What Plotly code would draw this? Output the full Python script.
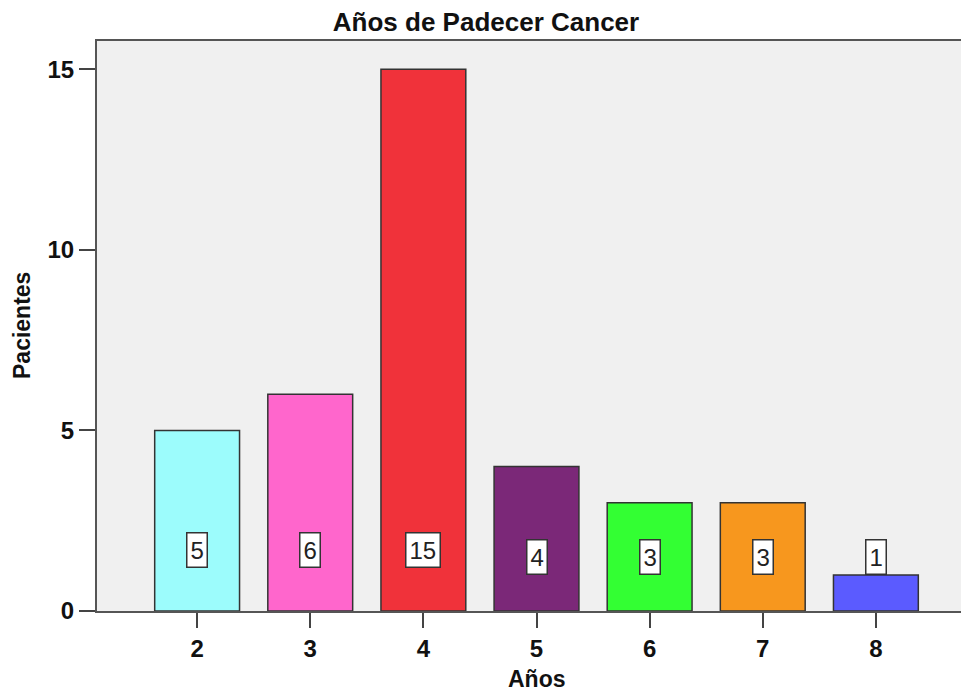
import plotly.graph_objects as go

# ---- data ----
categories = [2, 3, 4, 5, 6, 7, 8]
pacientes = [5, 6, 15, 4, 3, 3, 1]
bar_colors = ["#9CFCFC", "#FF66CC", "#F0323A", "#7B2878", "#33FF33", "#F7971E", "#5B5BFF"]
tick_vals_y = [0, 5, 10, 15]

FONT = "Liberation Sans, Arial, sans-serif"
label_pos = [1.69, 1.69, 1.69, 1.5, 1.5, 1.5, 1.5]  # layout: where value boxes sit

fig = go.Figure()
fig.add_trace(go.Bar(
    x=categories, y=pacientes, width=0.75,
    marker=dict(color=bar_colors, line=dict(color="#333333", width=1.5)),
    hoverinfo="x+y",
))

annotations = []
for c, v, ly in zip(categories, pacientes, label_pos):
    annotations.append(dict(
        x=c, y=ly, xref="x", yref="y", text=str(v), showarrow=False,
        font=dict(family=FONT, size=24, color="#222222"),
        bgcolor="white", bordercolor="#333333", borderwidth=1.5, borderpad=3,
    ))
# axis titles
annotations.append(dict(
    x=0, y=0.5, xref="paper", yref="paper", xshift=-75, text="<b>Pacientes</b>",
    textangle=-90, showarrow=False, xanchor="center", yanchor="middle",
    font=dict(family=FONT, size=23, color="#111111"),
))
annotations.append(dict(
    x=5, y=0, xref="x", yref="paper", yshift=-68, text="<b>Años</b>",
    showarrow=False, xanchor="center", yanchor="middle",
    font=dict(family=FONT, size=23, color="#111111"),
))

# page body has an 8px margin: figure is shifted by (8, 8) in the window
fig.update_layout(
    width=969, height=684,
    margin=dict(l=89, r=0, t=33, b=81, pad=0),
    paper_bgcolor="white", plot_bgcolor="#F0F0F0",
    showlegend=False,
    title=dict(text="<b>Años de Padecer Cancer</b>", x=478 / 969, xref="container",
               y=1 - 14 / 684, yref="container", xanchor="center", yanchor="middle",
               font=dict(family=FONT, size=26, color="#111111")),
    xaxis=dict(
        range=[2 - 100 / 113, 8 + 101 / 113], tickvals=categories,
        ticktext=[f"<b>{c}</b>" for c in categories],
        showgrid=False, zeroline=False, showline=True, linecolor="#555555", linewidth=2,
        mirror=True,
        ticks="outside", ticklen=15, tickwidth=2, tickcolor="#444444",
        tickfont=dict(family=FONT, size=24, color="#111111"),
    ),
    yaxis=dict(
        range=[0, 15.78], tickvals=tick_vals_y,
        ticktext=[f"<b>{t}</b>" for t in tick_vals_y],
        showgrid=False, zeroline=False, showline=True, linecolor="#555555", linewidth=2,
        ticks="outside", ticklen=16, tickwidth=2, tickcolor="#444444",
        ticklabelstandoff=0,
        tickfont=dict(family=FONT, size=24, color="#111111"),
    ),
    annotations=annotations,
    bargap=0.25,
)

fig.write_html("out.html")
